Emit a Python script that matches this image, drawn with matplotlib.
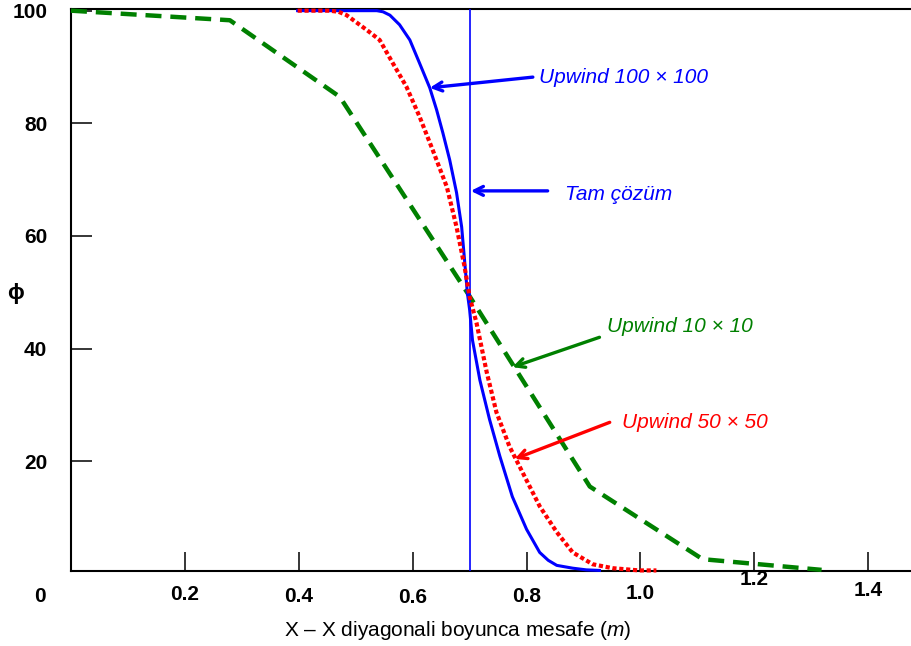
import matplotlib.pyplot as plt

plt.rcParams['font.family'] = ['Liberation Sans', 'DejaVu Sans']
plt.rcParams['mathtext.fontset'] = 'custom'
plt.rcParams['mathtext.it'] = 'Liberation Sans:italic'
plt.rcParams['mathtext.rm'] = 'Liberation Sans'

# Upwind 10 x 10 (green dashed)
x10 = [0.0, 0.279, 0.472, 0.698, 0.911, 1.109, 1.318]
phi10 = [100.0, 98.3, 84.7, 49.6, 15.5, 2.6, 0.7]

# Upwind 50 x 50 (red dotted)
x50 = [0.398, 0.454, 0.470, 0.484, 0.519, 0.542, 0.565, 0.589, 0.612, 0.635,
       0.660, 0.677, 0.691, 0.700, 0.712, 0.730, 0.747, 0.770, 0.793, 0.823,
       0.853, 0.881, 0.916, 0.951, 0.998, 1.028]
phi50 = [100.0, 100.0, 99.8, 99.2, 96.6, 94.8, 90.7, 86.5, 81.2, 75.3,
         68.7, 61.6, 54.6, 49.2, 44.6, 35.8, 28.7, 22.6, 18.0, 12.0,
         7.4, 3.8, 1.7, 1.0, 0.6, 0.6]

# Upwind 100 x 100 (blue solid)
x100 = [0.398, 0.537, 0.548, 0.560, 0.577, 0.595, 0.612, 0.630, 0.642, 0.653,
        0.665, 0.677, 0.686, 0.691, 0.696, 0.700, 0.705, 0.718, 0.735, 0.753,
        0.775, 0.800, 0.823, 0.838, 0.853, 0.881, 0.905, 0.928]
phi100 = [100.0, 100.0, 99.8, 99.2, 97.5, 94.8, 90.7, 86.3, 82.4, 78.3,
          73.5, 67.7, 61.6, 55.8, 49.9, 46.9, 41.5, 34.4, 27.4, 20.9,
          13.7, 7.9, 3.8, 2.4, 1.5, 1.0, 0.7, 0.6]

# exact solution: step at x = 0.7
x_exact = 0.7

xticks = [0.2, 0.4, 0.6, 0.8, 1.0, 1.2, 1.4]
xtick_labels = ['0.2', '0.4', '0.6', '0.8', '1.0', '1.2', '1.4']
yticks = [20, 40, 60, 80, 100]
ytick_labels = ['20', '40', '60', '80', '100']

fig = plt.figure(figsize=(9.11, 6.46), dpi=100)
ax = fig.add_axes([0.0779, 0.1161, 0.9221, 0.8700])

ax.plot(x10, phi10, color='#008000', lw=3.2, ls=(0, (3.6, 2.0)),
        zorder=3, clip_on=False)
ax.plot(x50, phi50, color='#ff0000', lw=3.0, ls=(0, (1, 0.65)),
        zorder=4, clip_on=False)
ax.plot(x100, phi100, color='#0000ff', lw=2.2, zorder=3.5, clip_on=False)
ax.axvline(x_exact, color='#0000ff', lw=1.2, zorder=3)

ax.set_xlim(0, 1.475)
ax.set_ylim(0.5, 100.3)

for side in ['left', 'bottom', 'top']:
    ax.spines[side].set_linewidth(1.5)
ax.spines['right'].set_visible(False)

ax.set_xticks(xticks)
ax.set_xticklabels([])
ax.tick_params(axis='x', direction='in', length=14, width=1.1)
ax.set_yticks(yticks)
ax.set_yticklabels(ytick_labels, fontsize=15, fontweight='bold')
ax.tick_params(axis='y', direction='in', length=15, width=1.1, pad=17)

# x tick labels sit at slightly different heights in the original
label_dy = [-24, -26, -27, -26, -23, -9, -20]
for v, lab, dy in zip(xticks, xtick_labels, label_dy):
    ax.annotate(lab, (v, 0), xycoords=('data', 'axes fraction'),
                xytext=(0, dy * 0.72), textcoords='offset points',
                ha='center', va='center', fontsize=15, fontweight='bold')
fig.text(40 / 911, 1 - 596 / 646, '0', ha='center', va='center',
         fontsize=15, fontweight='bold')

fig.text(458 / 911, 1 - 631 / 646,
         r'X – X diyagonali boyunca mesafe ($\mathit{m}$)',
         ha='center', va='center', fontsize=15)
fig.text(15 / 911, 1 - 293 / 646, 'ϕ', ha='center', va='center',
         fontsize=16, fontweight='bold')

arrow = dict(arrowstyle='->', lw=2.4, shrinkA=0, shrinkB=0,
             mutation_scale=16)

ax.annotate('', xy=(0.630, 86.3), xytext=(0.811, 88.2),
            arrowprops=dict(arrow, color='#0000ff'))
ax.text(0.821, 88.2, 'Upwind 100 × 100', color='#0000ff', style='italic',
        fontsize=15, ha='left', va='center')

ax.annotate('', xy=(0.702, 68.0), xytext=(0.837, 68.0),
            arrowprops=dict(arrow, color='#0000ff'))
ax.text(0.867, 67.3, 'Tam çözüm', color='#0000ff', style='italic',
        fontsize=15, ha='left', va='center')

ax.annotate('', xy=(0.775, 36.7), xytext=(0.928, 42.0),
            arrowprops=dict(arrow, color='#008000'))
ax.text(0.942, 44.0, 'Upwind 10 × 10', color='#008000', style='italic',
        fontsize=15, ha='left', va='center')

ax.annotate('', xy=(0.779, 20.4), xytext=(0.946, 26.9),
            arrowprops=dict(arrow, color='#ff0000'))
ax.text(0.968, 26.8, 'Upwind 50 × 50', color='#ff0000', style='italic',
        fontsize=15, ha='left', va='center')

fig.savefig('out.png', dpi=100)
